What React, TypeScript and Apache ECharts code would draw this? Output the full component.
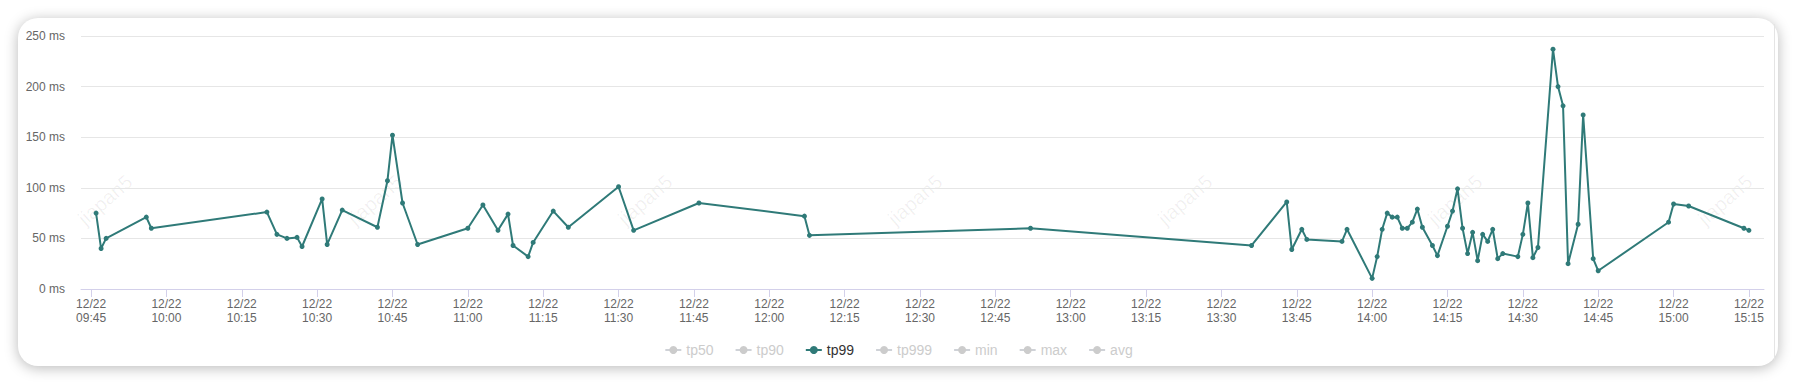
import React, { useEffect, useRef } from "react";
import * as echarts from "echarts";

const DAY = [2023, 11, 22];
const AXIS_MIN = "09:43";
const AXIS_MAX = "15:18";
const tickTimes = ["09:45","10:00","10:15","10:30","10:45","11:00","11:15","11:30","11:45","12:00","12:15","12:30","12:45","13:00","13:15","13:30","13:45","14:00","14:15","14:30","14:45","15:00","15:15"];

const times = ["09:46","09:47","09:48","09:56","09:57","10:20","10:22","10:24","10:26","10:27","10:31","10:32","10:35","10:42","10:44","10:45","10:47","10:50","11:00","11:03","11:06","11:08","11:09","11:12","11:13","11:17","11:20","11:30","11:33","11:46","12:07","12:08","12:52","13:36","13:43","13:44","13:46","13:47","13:54","13:55","14:00","14:01","14:02","14:03","14:04","14:05","14:06","14:07","14:08","14:09","14:10","14:12","14:13","14:15","14:16","14:17","14:18","14:19","14:20","14:21","14:22","14:23","14:24","14:25","14:26","14:29","14:30","14:31","14:32","14:33","14:36","14:37","14:38","14:39","14:41","14:42","14:44","14:45","14:59","15:00","15:03","15:14","15:15"];

const tp99 = [75,40,50,71,60,76,54,50,51,42,89,44,78,61,107,152,85,44,60,83,58,74,43,32,46,77,61,101,58,85,72,53,60,43,86,39,59,49,47,59,10.5,32,59,75,71,71,60,60,66,79,61,43,33,62,77,99,60,35,56,28,54,47,59,30,35,32,54,85,31,41,237,200,181,25,64,172,30,18,66,84,82,60,58];

const seriesNames = ["tp50", "tp90", "tp99", "tp999", "min", "max", "avg"];
const yTicks = [0, 50, 100, 150, 200, 250];
const watermarkText = "jiapan5";

const LINE = "#2f7a78";
const FONT = "Liberation Sans, Arial, sans-serif";

function toTs(hm: string): number {
  const [h, m] = hm.split(":").map(Number);
  return new Date(DAY[0], DAY[1], DAY[2], h, m, 0).getTime();
}
const pad = (n: number) => (n < 10 ? "0" + n : "" + n);

export default function App() {
  const ref = useRef<HTMLDivElement>(null);
  useEffect(() => {
    if (!ref.current) return;
    const chart = echarts.init(ref.current, null, { renderer: "svg" });
    const data = times.map((t, i) => [toTs(t), tp99[i]]);
    const tickVals = tickTimes.map(toTs);
    const selected: Record<string, boolean> = {};
    seriesNames.forEach((n) => (selected[n] = n === "tp99"));
    const wmX = [105, 375, 645, 915, 1185, 1455, 1725];
    chart.setOption({
      animation: false,
      backgroundColor: "transparent",
      textStyle: { fontFamily: FONT },
      grid: { left: 81, right: 33, top: 36, bottom: 95, containLabel: false },
      legend: {
        data: seriesNames,
        selected,
        top: 338,
        left: "center",
        itemWidth: 16,
        itemHeight: 10,
        itemGap: 21,
        inactiveColor: "#cccccc",
        textStyle: { fontSize: 14, color: "#333", fontFamily: FONT },
      },
      graphic: wmX.map((x) => ({
        type: "text",
        x,
        y: 200,
        rotation: 0.72,
        z: -10,
        silent: true,
        style: {
          text: watermarkText,
          fill: "rgba(0,0,0,0.06)",
          font: "20px " + FONT,
          textAlign: "center",
          textVerticalAlign: "middle",
        },
      })),
      xAxis: {
        type: "value",
        min: toTs(AXIS_MIN),
        max: toTs(AXIS_MAX),
        axisLine: { lineStyle: { color: "#d3d0ea" } },
        axisTick: { show: true, length: 8, customValues: tickVals, lineStyle: { color: "#d3d0ea" } },
        splitLine: { show: false },
        axisLabel: {
          customValues: tickVals,
          color: "#666",
          fontSize: 12,
          lineHeight: 14,
          margin: 8,
          fontFamily: FONT,
          formatter: (v: number) => {
            const d = new Date(v);
            return pad(d.getMonth() + 1) + "/" + pad(d.getDate()) + "\n" + pad(d.getHours()) + ":" + pad(d.getMinutes());
          },
        },
      },
      yAxis: {
        type: "value",
        min: yTicks[0],
        max: yTicks[yTicks.length - 1],
        interval: 50,
        axisLine: { show: false },
        axisTick: { show: false },
        splitLine: { lineStyle: { color: "#e6e6e6" } },
        axisLabel: { color: "#666", fontSize: 12, margin: 16, formatter: "{value} ms", fontFamily: FONT },
      },
      series: seriesNames.map((n) => ({
        name: n,
        type: "line",
        symbol: "circle",
        symbolSize: 5,
        showAllSymbol: true,
        lineStyle: { width: 2, color: LINE },
        itemStyle: { color: n === "tp99" ? LINE : "#cccccc" },
        data: n === "tp99" ? data : [],
      })),
    });
    return () => chart.dispose();
  }, []);

  return (
    <div style={{ position: "absolute", left: 0, top: 0, width: 1797, height: 384, background: "#ffffff", overflow: "hidden" }}>
      <div
        style={{
          position: "absolute",
          left: 18,
          top: 18,
          width: 1760,
          height: 348,
          borderRadius: 20,
          background: "#fff",
          boxShadow: "0 2px 14px rgba(0,0,0,0.28)",
        }}
      />
      <div style={{ position: "absolute", left: 1774, top: 24, width: 1, height: 336, background: "#e4e4e4" }} />
      <div ref={ref} style={{ position: "absolute", left: 0, top: 0, width: 1797, height: 384 }} />
    </div>
  );
}
